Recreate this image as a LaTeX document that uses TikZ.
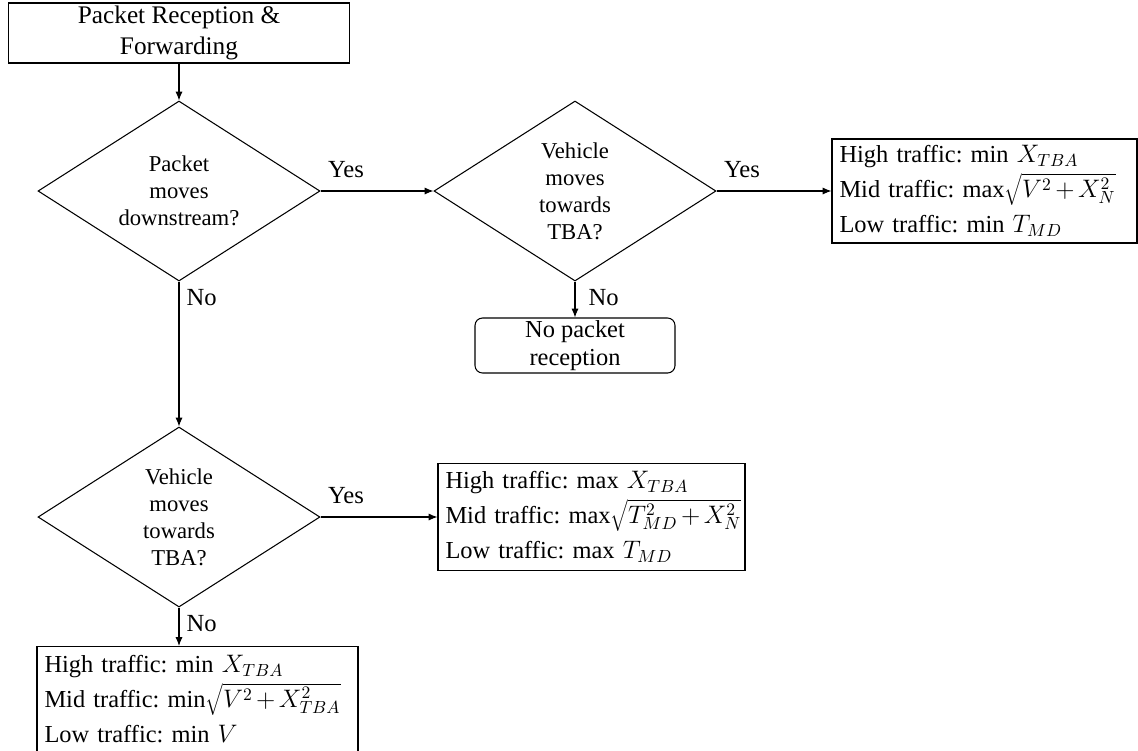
\documentclass[tikz,border=0pt]{standalone}
\usepackage{fontspec}
\setmainfont{Liberation Serif}
\usetikzlibrary{shapes.geometric,arrows.meta,positioning}
\frenchspacing
\newcommand\resultfont{\fontsize{13.9}{20}\selectfont\medmuskip=2.5mu\relax}

\tikzset{
  box/.style={draw, align=center, inner sep=0pt},
  decision/.style={draw, diamond, aspect=1.567, minimum width=5.64cm, minimum height=3.6cm,
    inner sep=0pt, align=center, font=\fontsize{12.9}{15.4}\selectfont},
  result/.style={draw, align=left, inner xsep=0.15cm, inner ysep=0pt, font=\resultfont},
  answer/.style={font=\fontsize{14}{16}\selectfont, inner sep=4pt, pos=0},
  yes/.style={answer, anchor=south west, yshift=0.12cm},
  no/.style={answer, anchor=north west},
}

\begin{document}
\begin{tikzpicture}[>={Latex[length=5pt,width=4pt]}, on grid, line width=0.6pt]
      \useasboundingbox (0,0) rectangle (22.76,-15);

      \node[decision] (pkt) at (3.58,-3.82) {Packet\\moves\\downstream?};
      \node[box, minimum width=6.82cm, minimum height=1.2cm, font=\fontsize{14.4}{17.6}\selectfont]
        (start) [above=3.16cm of pkt] {Packet Reception \&\\Forwarding};
      \node[decision] (veh1) [right=7.92cm of pkt] {Vehicle\\moves\\towards\\TBA?};
      \node[decision] (veh2) [below=6.52cm of pkt] {Vehicle\\moves\\towards\\TBA?};
      \node[box, rounded corners=0.15cm, minimum width=4cm, minimum height=1.1cm, font=\fontsize{13.9}{16}\selectfont]
        (drop) [below=3.09cm of veh1] {No packet\\reception};
      \node[result, text width=5.8cm, minimum height=2.08cm] (down) [right=8.19cm of veh1]
        {High traffic: min $X_{TBA}$\\Mid traffic: max$\sqrt{V^{2}+X_{N}^{2}}$\\Low traffic: min $T_{MD}$};
      \node[result, text width=5.84cm, minimum height=2.14cm] (upto) [right=8.25cm of veh2]
        {High traffic: max $X_{TBA}$\\\mbox{Mid traffic: max$\sqrt{T_{MD}^{2}+X_{N}^{2}}$}\\Low traffic: max $T_{MD}$};
      \node[result, text width=6.12cm, minimum height=2.1cm] (away) [below=3.64cm of veh2, xshift=0.37cm]
        {High traffic: min $X_{TBA}$\\Mid traffic: min$\sqrt{V^{2}+X_{TBA}^{2}}$\\Low traffic: min $V$};

      \path[->]
        (start) edge (pkt)
        (pkt.east) edge node[yes] {Yes} (veh1.west)
        (pkt.south) edge node[no] {No} (veh2.north)
        (veh1.east) edge node[yes] {Yes} (down.west)
        (veh1.south) edge node[no, xshift=0.12cm] {No} (drop.north)
        (veh2.east) edge node[yes] {Yes} (upto.west)
        (veh2.south) edge node[no] {No} (veh2.south |- away.north);
\end{tikzpicture}
\end{document}
